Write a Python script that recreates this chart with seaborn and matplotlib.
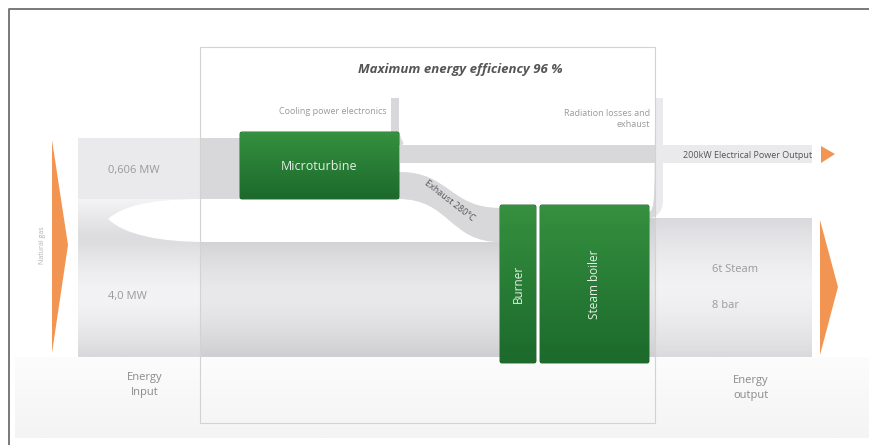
import numpy as np
import matplotlib
matplotlib.use("Agg")
import matplotlib.pyplot as plt
import seaborn as sns
from matplotlib.path import Path
from matplotlib.patches import PathPatch, Rectangle, Polygon, FancyBboxPatch

# --- data (text content of the diagram) ---
title = "Maximum energy efficiency 96 %"
input_labels = ["0,606 MW", "4,0 MW"]
input_caption = "Energy\nInput"
fuel_label = "Natural gas"
units = ["Microturbine", "Burner", "Steam boiler"]
loss_labels = ["Cooling power electronics", "Radiation losses and\nexhaust"]
exhaust_label = "Exhaust 280°C"
electric_label = "200kW Electrical Power Output"
steam_labels = ["6t Steam", "8 bar"]
output_caption = "Energy\noutput"

sns.set_theme(style="white")
plt.rcParams["font.family"] = ["Open Sans", "DejaVu Sans"]

band = "#eaeaed"
band_dark = "#d8d8db"
green_top = "#35903f"
green = "#1c6a2c"
orange = "#f39552"
txt = "#9a9a9a"

fig = plt.figure(figsize=(8.69, 4.45), dpi=100)
ax = fig.add_axes([0, 0, 1, 1])
ax.set_xlim(0, 869)
ax.set_ylim(445, 0)
ax.axis("off")

# outer frame (only left and top edges fall inside the picture)
ax.plot([9, 9, 869], [445, 9, 9], color="#6e6e6e", lw=1.3, zorder=10)

# faint floor
floor = np.linspace(0, 1, 50)[:, None]
fcm = matplotlib.colors.LinearSegmentedColormap.from_list("f", ["#f4f4f4", "#fcfcfc"])
ax.imshow(floor, cmap=fcm, extent=[15, 869, 357, 438], aspect="auto", zorder=0)

box_xy, box_w, box_h = (200, 47), 455, 376


def ribbon(x0, a0, b0, x1, a1, b1):
    k = (x1 - x0) / 2
    verts = [(x0, a0), (x0 + k, a0), (x1 - k, a1), (x1, a1),
             (x1, b1), (x1 - k, b1), (x0 + k, b0), (x0, b0), (x0, a0)]
    codes = [Path.MOVETO, Path.CURVE4, Path.CURVE4, Path.CURVE4,
             Path.LINETO, Path.CURVE4, Path.CURVE4, Path.CURVE4, Path.CLOSEPOLY]
    return Path(verts, codes)


M, C, L, Z = Path.MOVETO, Path.CURVE4, Path.LINETO, Path.CLOSEPOLY
# input region with the white notch between the two gas streams
inp = Path([(78, 138), (240, 138), (240, 199), (200, 199),
            (150, 199), (122, 206), (108, 219),
            (125, 235), (160, 242), (205, 242),
            (500, 242), (500, 357), (78, 357), (78, 138)],
           [M, L, L, L, C, C, C, C, C, C, L, L, L, Z])
paths = [
    inp,
    Path([(400, 145), (812, 145), (812, 163), (400, 163), (400, 145)], [M, L, L, L, Z]),
    ribbon(399, 172, 199, 500, 208, 242),
    Path([(649, 218), (812, 218), (812, 357), (649, 357), (649, 218)], [M, L, L, L, Z]),
    # cooling loss leaving the microturbine upward
    Path([(391, 98), (399, 98), (399, 130), (399, 140), (408, 145), (400, 145),
          (393, 145), (391, 138), (391, 130), (391, 98)],
         [M, L, L, C, C, C, C, C, C, Z]),
    # radiation loss leaving the boiler upward
    Path([(655, 98), (663, 98), (663, 200), (663, 212), (656, 218), (649, 218),
          (649, 212), (655, 210), (655, 200), (655, 98)],
         [M, L, L, C, C, C, L, C, C, Z]),
]
for p in paths:
    ax.add_patch(PathPatch(p, fc=band, ec="none", zorder=1))
    dark = PathPatch(p, fc=band_dark, ec="none", zorder=2)
    ax.add_patch(dark)
    dark.set_clip_path(Rectangle(box_xy, box_w, box_h, transform=ax.transData))

# vertical shading on the main streams (light core, darker edges)
rows = np.linspace(199, 357, 80)
shade = np.clip(np.abs(rows - 296) / 61, 0, 1) ** 1.5 * np.clip((rows - 199) / 43, 0, 1)
cm_sh = matplotlib.colors.LinearSegmentedColormap.from_list("s", ["#ffffff", "#c4c4c8"])
im = ax.imshow(shade[:, None], cmap=cm_sh, alpha=0.45, extent=[78, 812, 357, 199],
               aspect="auto", zorder=3, vmin=0, vmax=1)
im.set_clip_path(PathPatch(inp, transform=ax.transData))
rows_out = np.linspace(218, 357, 60)
shade_out = np.clip(np.abs(rows_out - 288) / 69, 0, 1) ** 1.5
ax.imshow(shade_out[:, None], cmap=cm_sh, alpha=0.4, extent=[649, 812, 357, 218],
          aspect="auto", zorder=3, vmin=0, vmax=1)

ax.add_patch(Rectangle(box_xy, box_w, box_h, fill=False, ec="#d2d2d2", lw=0.8, zorder=6))

# green units
gcm = matplotlib.colors.LinearSegmentedColormap.from_list("g", [green_top, green])
grad = np.linspace(0, 1, 50)[:, None]
for (x, y, w, h), name, rot in zip([(240, 132, 159, 67), (500, 205, 36, 158), (540, 205, 109, 158)],
                                  units, [0, 90, 90]):
    r = FancyBboxPatch((x, y), w, h, boxstyle="round,pad=0,rounding_size=2",
                       fc=green, ec="#164f22", lw=0.6, zorder=7)
    ax.add_patch(r)
    g = ax.imshow(grad, cmap=gcm, extent=[x, x + w, y + h, y], aspect="auto", zorder=7)
    g.set_clip_path(r)
    ax.text(x + w / 2, y + (h / 2 if rot else 35), name, color="#e6efe6",
            fontsize=8.5 if rot else 9, rotation=rot, ha="center", va="center", zorder=8)

# orange arrows
ax.add_patch(Polygon([(52, 140), (68, 245), (52, 353)], fc=orange, ec="none", zorder=5))
ax.add_patch(Polygon([(820, 220), (838, 287), (820, 355)], fc=orange, ec="none", zorder=5))
ax.add_patch(Polygon([(821, 146), (835, 154), (821, 163)], fc=orange, ec="none", zorder=5))

# texts
ax.text(460, 69, title, fontsize=9.5, style="italic", weight="bold", color="#555555",
        ha="center", va="center", zorder=9)
ax.text(108, 170, input_labels[0], fontsize=8, color=txt, ha="left", va="center", zorder=9)
ax.text(108, 297, input_labels[1], fontsize=8, color=txt, ha="left", va="center", zorder=9)
ax.text(145, 385, input_caption, fontsize=8, color="#8a8a8a", ha="center", va="center",
        linespacing=1.4, zorder=9)
ax.text(42, 245, fuel_label, fontsize=5, color="#b0b0b0", rotation=90, ha="center",
        va="center", zorder=9)
ax.text(387, 112, loss_labels[0], fontsize=6.5, color=txt, ha="right", va="center", zorder=9)
ax.text(650, 119, loss_labels[1], fontsize=6.5, color=txt, ha="right", va="center",
        linespacing=1.3, zorder=9)
ax.text(449, 201, exhaust_label, fontsize=6.5, color="#555555", rotation=-38,
        ha="center", va="center", zorder=9)
ax.text(812, 155, electric_label, fontsize=6.5, color="#555555", ha="right", va="center", zorder=9)
ax.text(712, 270, steam_labels[0], fontsize=8, color=txt, ha="left", va="center", zorder=9)
ax.text(712, 306, steam_labels[1], fontsize=8, color=txt, ha="left", va="center", zorder=9)
ax.text(751, 388, output_caption, fontsize=8, color="#8a8a8a", ha="center", va="center",
        linespacing=1.4, zorder=9)

fig.savefig("out.png", dpi=100)
